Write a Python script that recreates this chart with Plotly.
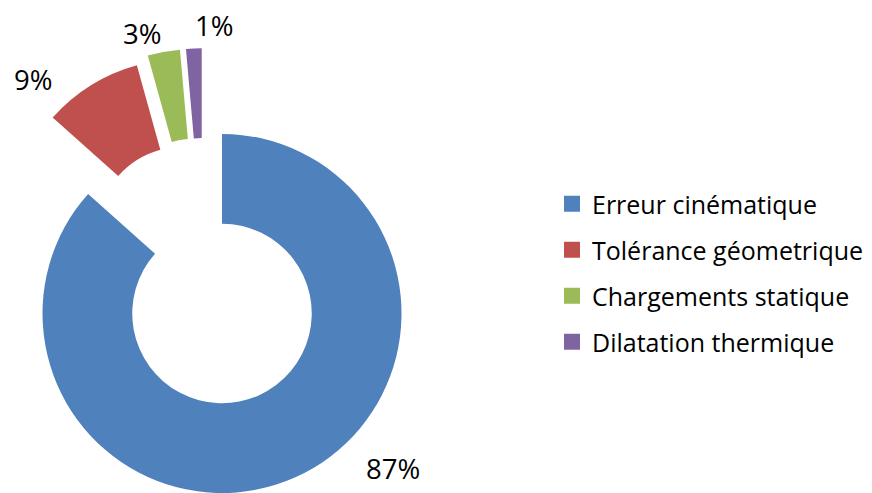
import math
import plotly.graph_objects as go

# ---- data ----
categories = ["Erreur cinématique", "Tolérance géometrique", "Chargements statique", "Dilatation thermique"]
shares = [86.6, 9.1, 2.9, 1.4]
colors = ["#4F81BD", "#C0504D", "#9BBB59", "#8064A2"]

# ---- layout / geometry (screen pixels; the page body adds an 8px margin) ----
PAGE_MARGIN = 8
W, H = 872 - PAGE_MARGIN, 493 - PAGE_MARGIN
CX, CY = 203.7, 272.6      # centre of the doughnut before the slices are exploded
RADIUS = 179.5
HOLE = 0.5
EXPLODE = 44.8             # explosion distance of every slice
LABEL_POS = [(393, 468), (32.5, 79.5), (142, 33), (214, 26)]
FONT = "Open Sans"


def fx(px):
    return (px - PAGE_MARGIN) / W


def fy(py):
    return 1 - (py - PAGE_MARGIN) / H


total = sum(shares)
fig = go.Figure()

start = 0.0
for i, (cat, v) in enumerate(zip(categories, shares)):
    span = 360.0 * v / total
    mid = math.radians(start + span / 2)
    start += span
    cx = CX + EXPLODE * math.sin(mid)
    cy = CY - EXPLODE * math.cos(mid)
    dx = [max(0.0, fx(cx - RADIUS)), min(1.0, fx(cx + RADIUS))]
    dy = [max(0.0, fy(cy + RADIUS)), min(1.0, fy(cy - RADIUS))]
    fig.add_trace(go.Pie(
        labels=categories,
        values=shares,
        marker=dict(colors=[c if j == i else "rgba(0,0,0,0)" for j, c in enumerate(colors)],
                    line=dict(width=0)),
        hole=HOLE,
        sort=False,
        direction="clockwise",
        rotation=0,
        textinfo="none",
        hoverinfo="label+percent",
        showlegend=False,
        domain=dict(x=dx, y=dy),
    ))

# legend entries
for cat, col in zip(categories, colors):
    fig.add_trace(go.Scatter(
        x=[None], y=[None], mode="markers", name=cat, legendgroup=cat,
        marker=dict(symbol="square", size=16, color=col),
        showlegend=True,
    ))

annotations = []
for (px, py), v in zip(LABEL_POS, shares):
    annotations.append(dict(
        text=f"{round(v / total * 100)}%",
        x=fx(px), y=fy(py), xref="paper", yref="paper",
        xanchor="center", yanchor="middle", showarrow=False,
        font=dict(family=FONT, size=27.5, color="#000000"),
    ))

fig.update_layout(
    width=W, height=H,
    margin=dict(l=0, r=0, t=0, b=0, pad=0),
    paper_bgcolor="white", plot_bgcolor="white",
    xaxis=dict(visible=False), yaxis=dict(visible=False),
    showlegend=True,
    legend=dict(
        x=fx(552), y=fy(181), xanchor="left", yanchor="top",
        font=dict(family=FONT, size=25, color="#000000"),
        traceorder="grouped", tracegroupgap=10.5,
        bgcolor="rgba(0,0,0,0)",
    ),
    annotations=annotations,
)

fig.write_html("out.html")
